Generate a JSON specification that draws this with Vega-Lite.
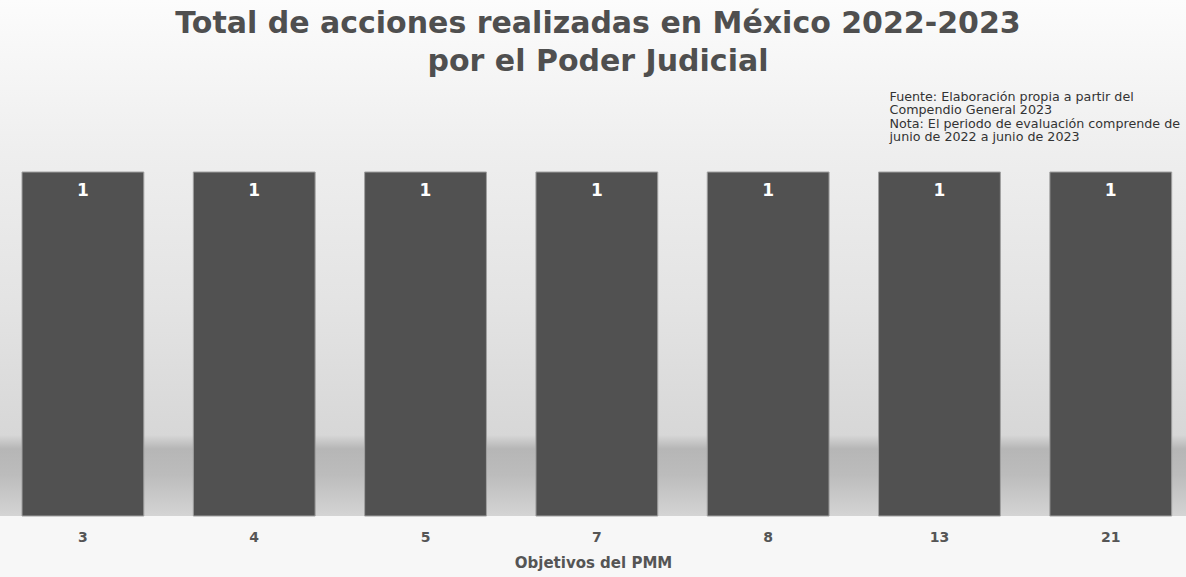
{
  "$schema": "https://vega.github.io/schema/vega-lite/v6.json",
  "width": 1186,
  "height": 516,
  "autosize": {"type": "none"},
  "padding": {"left": 0, "right": 0, "top": 0, "bottom": 61},
  "background": "#f7f7f7",
  "view": {
    "stroke": null,
    "fill": {
      "gradient": "linear",
      "x1": 0, "y1": 0, "x2": 0, "y2": 1,
      "stops": [
        {"offset": 0, "color": "#fcfcfc"},
        {"offset": 0.3, "color": "#eeeeee"},
        {"offset": 0.6, "color": "#e3e3e3"},
        {"offset": 0.843, "color": "#d7d7d7"},
        {"offset": 0.87, "color": "#b6b6b6"},
        {"offset": 0.92, "color": "#bcbcbc"},
        {"offset": 1, "color": "#d4d4d4"}
      ]
    }
  },
  "title": {
    "text": ["Total de acciones realizadas en México 2022-2023", "por el Poder Judicial"],
    "anchor": "middle",
    "offset": -77,
    "dx": 5,
    "font": "DejaVu Sans",
    "fontSize": 30,
    "fontWeight": "bold",
    "lineHeight": 38,
    "color": "#4f4f4f"
  },
  "data": {
    "values": [
      {"objetivo": "3", "acciones": 1},
      {"objetivo": "4", "acciones": 1},
      {"objetivo": "5", "acciones": 1},
      {"objetivo": "7", "acciones": 1},
      {"objetivo": "8", "acciones": 1},
      {"objetivo": "13", "acciones": 1},
      {"objetivo": "21", "acciones": 1}
    ]
  },
  "encoding": {
    "x": {
      "field": "objetivo",
      "type": "nominal",
      "sort": null,
      "scale": {"paddingInner": 0.2889, "paddingOuter": 0.106, "align": 0.606},
      "axis": {
        "title": "Objetivos del PMM",
        "labelAngle": 0,
        "domain": false,
        "ticks": false,
        "grid": false,
        "labelFont": "DejaVu Sans",
        "labelFontSize": 14,
        "labelFontWeight": "bold",
        "labelColor": "#555555",
        "labelPadding": 14,
        "titleFont": "DejaVu Sans",
        "titleFontSize": 15,
        "titleFontWeight": "bold",
        "titleColor": "#555555",
        "titlePadding": 11
      }
    },
    "y": {
      "field": "acciones",
      "type": "quantitative",
      "scale": {"domain": [0, 1.5], "nice": false, "zero": true},
      "axis": null
    }
  },
  "layer": [
    {
      "mark": {"type": "bar", "color": "#515151", "stroke": "#a0a0a0", "strokeWidth": 1}
    },
    {
      "mark": {
        "type": "text",
        "color": "#ffffff",
        "font": "DejaVu Sans",
        "fontSize": 17,
        "fontWeight": "bold",
        "baseline": "middle",
        "dy": 19
      },
      "encoding": {"text": {"field": "acciones", "type": "quantitative"}}
    },
    {
      "data": {
        "values": [
          {"objetivo": "13", "acciones": 1, "nota": ["Fuente: Elaboración propia a partir del", "Compendio General 2023", "Nota: El periodo de evaluación comprende de", "junio de 2022 a junio de 2023"]}
        ]
      },
      "mark": {
        "type": "text",
        "align": "left",
        "baseline": "top",
        "font": "DejaVu Sans",
        "fontSize": 12.7,
        "lineHeight": 13.3,
        "color": "#333333",
        "dx": 11,
        "dy": -81
      },
      "encoding": {
        "x": {"field": "objetivo", "type": "nominal", "sort": null, "bandPosition": 0},
        "text": {"field": "nota"}
      }
    }
  ]
}
